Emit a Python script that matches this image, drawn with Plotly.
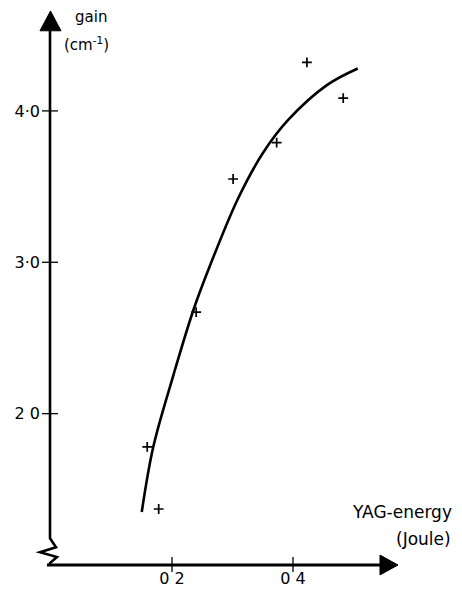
import plotly.graph_objects as go

# ---- data ----
meas_energy = [0.159, 0.178, 0.240, 0.301, 0.373, 0.423, 0.483]
meas_gain = [1.78, 1.37, 2.67, 3.55, 3.79, 4.32, 4.085]

fit_energy = [0.150, 0.169, 0.202, 0.235, 0.263, 0.309, 0.350, 0.392, 0.456, 0.507]
fit_gain = [1.35, 1.78, 2.25, 2.68, 2.98, 3.42, 3.72, 3.94, 4.17, 4.28]

x_tickvals = [0.2, 0.4]
x_ticktext = ["0 2", "0 4"]
y_tickvals = [2.0, 3.0, 4.0]
y_ticktext = ["2 0", "3·0", "4·0"]

W, H = 462, 598
L, R, T, B = 51, 62, 10, 27
PW, PH = W - L - R, H - T - B
XR = [0, PW / 605.0]
YR = [1.0, 1.0 + PH / 153.0]

FONT = "DejaVu Sans, sans-serif"


def px(x, y):
    """pixel -> paper coords (decoration only)"""
    return (x - L) / PW, (H - B - y) / PH


def path_of(pts, close=False):
    s = ""
    for i, (a, b) in enumerate(pts):
        xx, yy = px(a, b)
        s += ("M" if i == 0 else "L") + f"{xx:.5f},{yy:.5f}"
    return s + ("Z" if close else "")


fig = go.Figure()
fig.add_trace(go.Scatter(x=fit_energy, y=fit_gain, mode="lines",
                         line=dict(color="black", width=2.6, shape="spline", smoothing=1.0),
                         hoverinfo="skip", showlegend=False))
fig.add_trace(go.Scatter(x=meas_energy, y=meas_gain, mode="markers",
                         marker=dict(symbol="cross-thin", size=7,
                                     line=dict(color="black", width=1.7)),
                         showlegend=False))

shapes = []
# crossing ticks
for v in x_tickvals:
    shapes.append(dict(type="line", xref="x", yref="paper", x0=v, x1=v,
                       y0=-7 / PH, y1=8 / PH, line=dict(color="black", width=1.3)))
for v in y_tickvals:
    shapes.append(dict(type="line", xref="paper", yref="y", x0=-9 / PW, x1=7 / PW,
                       y0=v, y1=v, line=dict(color="black", width=1.3)))
# y axis line with zig-zag break
shapes.append(dict(type="path", xref="paper", yref="paper",
                   path=path_of([(50, 28), (50, 544), (56, 553), (40, 558), (57, 563),
                                 (50, 569), (50, 571)]),
                   line=dict(color="black", width=2.6)))
# x axis line
shapes.append(dict(type="path", xref="paper", yref="paper",
                   path=path_of([(47, 571), (384, 571)]),
                   line=dict(color="black", width=2.8)))
# arrow heads
shapes.append(dict(type="path", xref="paper", yref="paper",
                   path=path_of([(50.5, 11), (61, 31), (40, 31)], close=True),
                   fillcolor="black", line=dict(color="black", width=1)))
shapes.append(dict(type="path", xref="paper", yref="paper",
                   path=path_of([(398, 571), (380, 561), (380, 581)], close=True),
                   fillcolor="black", line=dict(color="black", width=1)))

annotations = []
gx, gy = px(73, 17)
annotations.append(dict(x=gx, y=gy, xref="paper", yref="paper", text="gain",
                        showarrow=False, xanchor="left", yanchor="middle",
                        font=dict(family=FONT, size=15, color="black")))
cx, cy = px(62, 44)
annotations.append(dict(x=cx, y=cy, xref="paper", yref="paper", text="(cm<sup>-1</sup>)",
                        showarrow=False, xanchor="left", yanchor="middle",
                        font=dict(family=FONT, size=15, color="black")))
yx, yy_ = px(454, 517)
annotations.append(dict(x=yx, y=yy_, xref="paper", yref="paper", text="YAG-energy",
                        showarrow=False, xanchor="right", yanchor="middle",
                        font=dict(family=FONT, size=17, color="black")))
jx, jy = px(453, 545)
annotations.append(dict(x=jx, y=jy, xref="paper", yref="paper", text="(Joule)",
                        showarrow=False, xanchor="right", yanchor="middle",
                        font=dict(family=FONT, size=17, color="black")))

fig.update_layout(
    width=W, height=H,
    margin=dict(l=L, r=R, t=T, b=B, pad=0),
    paper_bgcolor="white", plot_bgcolor="white",
    shapes=shapes, annotations=annotations,
    font=dict(family=FONT, size=16, color="black"),
)
fig.update_xaxes(range=XR, showgrid=False, zeroline=False, showline=False,
                 tickvals=x_tickvals, ticktext=x_ticktext, ticks="",
                 ticklabelstandoff=2, tickfont=dict(family=FONT, size=16))
fig.update_yaxes(range=YR, showgrid=False, zeroline=False, showline=False,
                 tickvals=y_tickvals, ticktext=y_ticktext, ticks="",
                 ticklabelstandoff=10, tickfont=dict(family=FONT, size=16))

fig.write_html("out.html", config=dict(displayModeBar=False))
